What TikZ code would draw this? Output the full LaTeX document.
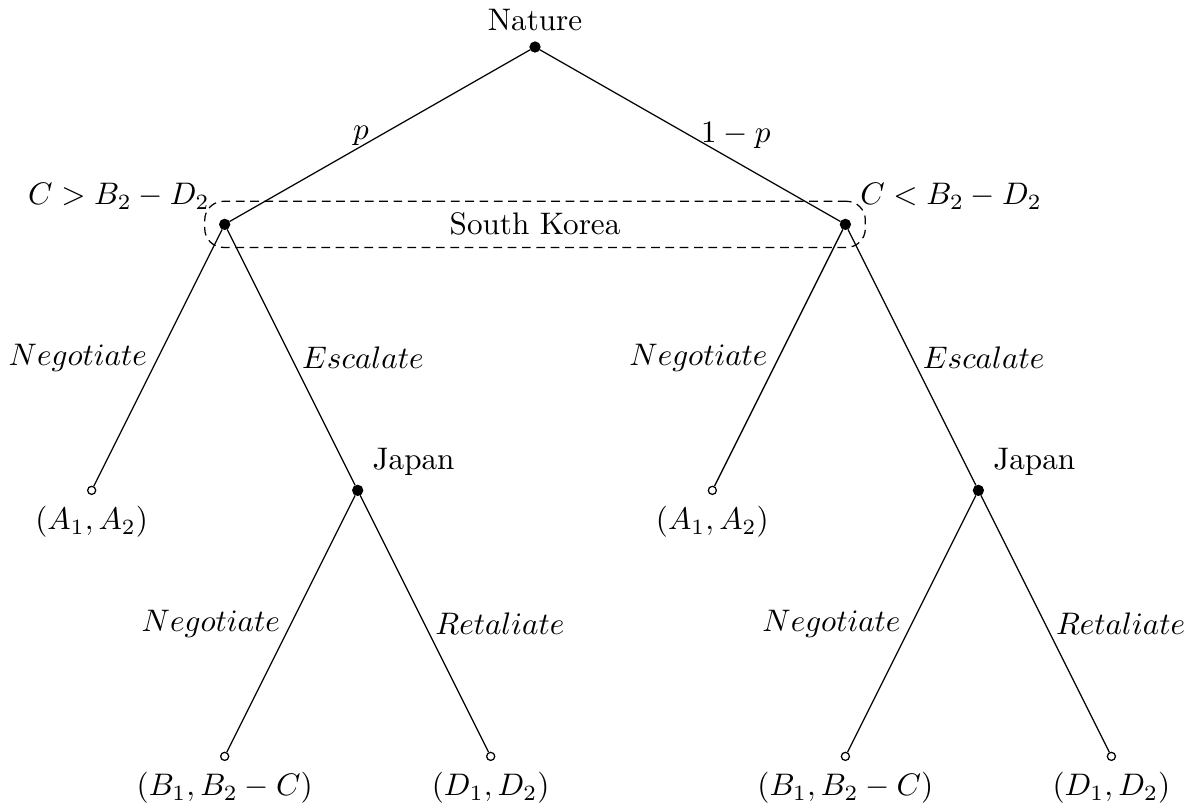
\documentclass[tikz,border=0pt]{standalone}
\usepackage{amsmath}
\usepackage{amssymb}
\usepackage{tikz}
\usetikzlibrary{positioning, fit, calc}
\tikzset{
  decision/.style={circle, draw=black, fill=black, inner sep=0pt, minimum size=3.2pt},
  payoff/.style={circle, draw=black, fill=white, inner sep=0pt, minimum size=2.6pt},
  infoset/.style={rectangle, rounded corners=6pt, draw=black, dash pattern=on 2.8pt off 1.8pt,
              inner xsep=4.6pt, inner ysep=5.6pt},
  move/.style={font=\normalsize},
}

\begin{document}
\begin{tikzpicture}
      \useasboundingbox (-6.034,-8.616) rectangle (7.522,0.530);
      % Nature draws the type of South Korea
      \node[decision, label=above:Nature] (nature) at (0,0) {};
      \node[decision, label=above left:{$C > B_2 - D_2$}] (skL) at (-3.5,-2) {};
      \node[decision, label=above right:{$C < B_2 - D_2$}] (skR) at (3.5,-2) {};
      \draw (nature) -- node[left] {$p$} (skL);
      \draw (nature) -- node[right] {$1-p$} (skR);
      % information set of South Korea
      \node[infoset, fit=(skL)(skR), label=center:South Korea] (korea) {};

      % left branch
      \node[payoff, label=below:{$(A_1, A_2)$}] (aL) at (-5,-5) {};
      \node[decision, label=above right:Japan] (jpL) at (-2,-5) {};
      \draw (skL) -- node[move, left] {$Negotiate$} (aL);
      \draw (skL) -- node[move, right] {$Escalate$} (jpL);
      \node[payoff, label=below:{$(B_1, B_2 - C)$}] (bL) at (-3.5,-8) {};
      \node[payoff, label=below:{$(D_1, D_2)$}] (dL) at (-0.5,-8) {};
      \draw (jpL) -- node[move, left] {$Negotiate$} (bL);
      \draw (jpL) -- node[move, right] {$Retaliate$} (dL);

      % right branch
      \node[payoff, label=below:{$(A_1, A_2)$}] (aR) at (2,-5) {};
      \node[decision, label=above right:Japan] (jpR) at (5,-5) {};
      \draw (skR) -- node[move, left] {$Negotiate$} (aR);
      \draw (skR) -- node[move, right] {$Escalate$} (jpR);
      \node[payoff, label=below:{$(B_1, B_2 - C)$}] (bR) at (3.5,-8) {};
      \node[payoff, label=below:{$(D_1, D_2)$}] (dR) at (6.5,-8) {};
      \draw (jpR) -- node[move, left] {$Negotiate$} (bR);
      \draw (jpR) -- node[move, right] {$Retaliate$} (dR);
\end{tikzpicture}
\end{document}
